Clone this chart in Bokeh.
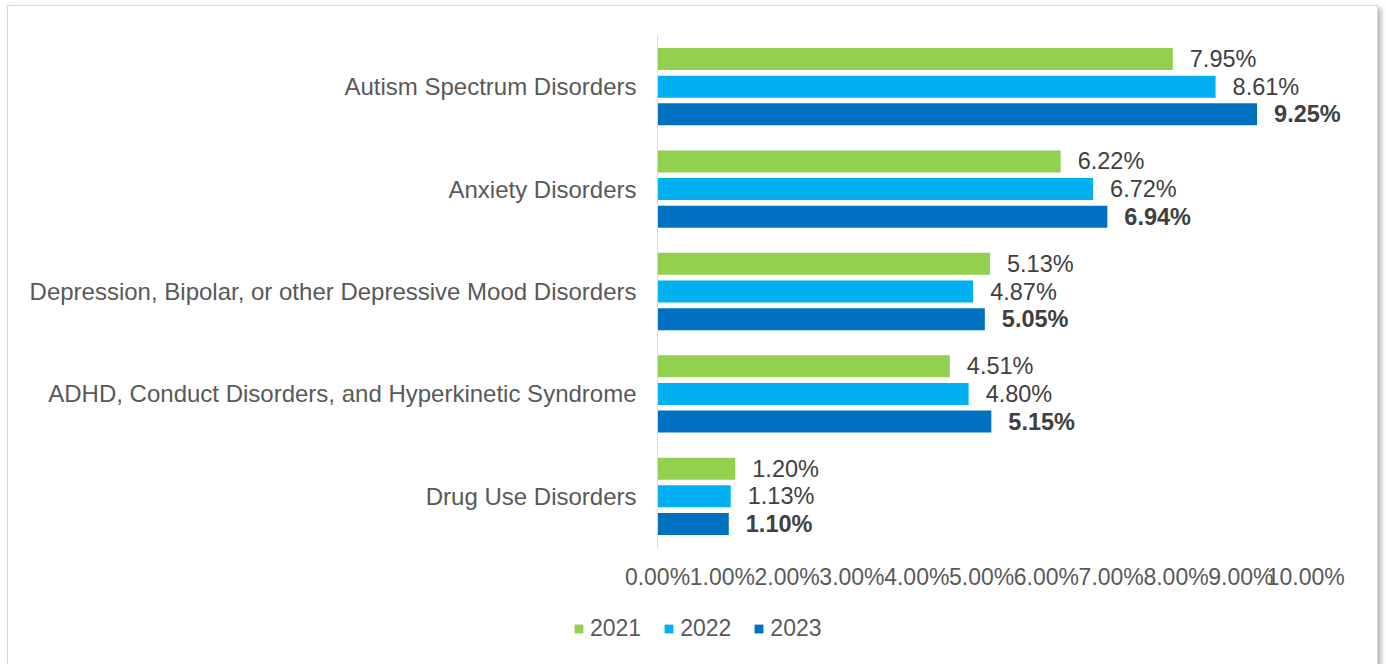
from bokeh.plotting import figure
from bokeh.layouts import column
from bokeh.models import (ColumnDataSource, FactorRange, Range1d, FixedTicker,
                          Legend, LegendItem)
from bokeh.transform import dodge
from bokeh.core.properties import value
from bokeh.embed import file_html
from bokeh.resources import INLINE

# Share of members with each diagnosis, by year (percent)
categories = [
    "Autism Spectrum Disorders",
    "Anxiety Disorders",
    "Depression, Bipolar, or other Depressive Mood Disorders",
    "ADHD, Conduct Disorders, and Hyperkinetic Syndrome",
    "Drug Use Disorders",
]
years = ["2021", "2022", "2023"]
share_2021 = [7.95, 6.22, 5.13, 4.51, 1.20]
share_2022 = [8.61, 6.72, 4.87, 4.80, 1.13]
share_2023 = [9.25, 6.94, 5.05, 5.15, 1.10]
x_ticks = [0, 1, 2, 3, 4, 5, 6, 7, 8, 9, 10]

colors = ["#92D050", "#00B0F0", "#0070C0"]
font = "Liberation Sans"
text_grey = "#595959"
frame_grey = "#d9d9d9"

source = ColumnDataSource(data=dict(
    cat=categories,
    y2021=share_2021,
    y2022=share_2022,
    y2023=share_2023,
    l2021=[f"{v:.2f}%" for v in share_2021],
    l2022=[f"{v:.2f}%" for v in share_2022],
    l2023=[f"{v:.2f}%" for v in share_2023],
))

# the plot frame runs past the 10% tick so the value labels have room
p = figure(
    frame_width=713, frame_height=512,
    y_range=FactorRange(factors=categories[::-1]),
    x_range=Range1d(0, 11),
    output_backend="svg", toolbar_location=None,
    min_border_left=649, min_border_right=7,
    min_border_top=29, min_border_bottom=0,
    outline_line_color=None,
)

offsets = [0.27, 0.0, -0.27]
for yr, off, col in zip(years, offsets, colors):
    p.hbar(y=dodge("cat", off, range=p.y_range), right="y" + yr, left=0,
           height=0.215, source=source, fill_color=col, line_color=None)
    p.text(x="y" + yr, y=dodge("cat", off, range=p.y_range), text="l" + yr,
           source=source, x_offset=17, text_baseline="middle",
           text_font=value(font), text_font_size="23.5px",
           text_color="#404040",
           text_font_style="bold" if yr == "2023" else "normal")

# category axis
p.yaxis.axis_line_color = frame_grey
p.yaxis.major_tick_line_color = None
p.yaxis.minor_tick_line_color = None
p.yaxis.major_label_standoff = 15
p.yaxis.major_label_text_font = font
p.yaxis.major_label_text_font_size = "24px"
p.yaxis.major_label_text_color = text_grey

# percent axis
p.xaxis.ticker = FixedTicker(ticks=x_ticks)
p.xaxis.major_label_overrides = {t: f"{t:.2f}%" for t in x_ticks}
p.xaxis.axis_line_color = None
p.xaxis.major_tick_line_color = None
p.xaxis.minor_tick_line_color = None
p.xaxis.major_label_standoff = 10
p.xaxis.major_label_text_font = font
p.xaxis.major_label_text_font_size = "23px"
p.xaxis.major_label_text_color = text_grey

p.xgrid.grid_line_color = None
p.ygrid.grid_line_color = None

# legend strip under the chart; its bar renderers sit outside the visible
# x range, so only their legend swatches show
key = figure(
    width=1369, height=90,
    x_range=Range1d(-2, -1), y_range=FactorRange(factors=categories),
    output_backend="svg", toolbar_location=None,
    min_border=0, outline_line_color=None,
)
key.axis.visible = False
key.grid.visible = False
swatches = [key.hbar(y="cat", right="y" + yr, left=0, height=0.5, source=source,
                     fill_color=col, line_color=None)
            for yr, col in zip(years, colors)]

# keep the legend strip's frame independent of the chart's frame
free_frame = "frame_align" in key.properties()
if free_frame:
    key.frame_align = False
    p.frame_align = False
legend_x = 565 if free_frame else 1

legend = Legend(
    items=[LegendItem(label=yr, renderers=[r]) for yr, r in zip(years, swatches)],
    orientation="horizontal", location=(legend_x, 40),
    glyph_width=11, glyph_height=11, label_standoff=6, spacing=22,
    padding=0, margin=0, border_line_color=None, background_fill_alpha=0,
    label_text_font=font, label_text_font_size="23px", label_text_color=text_grey,
)
key.add_layout(legend, "center")

layout = column(
    p, key, spacing=0,
    styles={
        "margin-left": "7px",
        "margin-top": "5px",
        "border": f"1px solid {frame_grey}",
        "box-shadow": "3px 3px 5px rgba(0,0,0,0.30)",
        "background-color": "white",
    },
)

open("out.html", "w").write(file_html(layout, INLINE))
